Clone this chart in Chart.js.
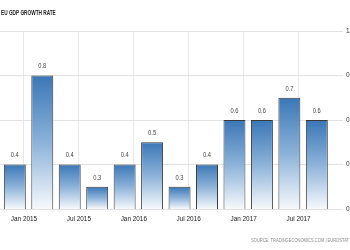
<!DOCTYPE html>
<html>
<head>
<meta charset="utf-8">
<script src="https://cdn.jsdelivr.net/npm/chart.js@4.4.1/dist/chart.umd.min.js"></script>
<style>
  html, body { margin: 0; padding: 0; background: #fff; overflow: hidden; }
  #wrap { width: 350px; height: 250px; overflow: hidden; position: relative; }
</style>
</head>
<body>
<div id="wrap"><canvas id="chart" width="372" height="250"></canvas></div>
<script>
// quarterly readings, months counted from Jan 2015
var quarters = ["2015 Q1", "2015 Q2", "2015 Q3", "2015 Q4", "2016 Q1", "2016 Q2", "2016 Q3", "2016 Q4", "2017 Q1", "2017 Q2", "2017 Q3", "2017 Q4"];
var growth = [0.4, 0.8, 0.4, 0.3, 0.4, 0.5, 0.3, 0.4, 0.6, 0.6, 0.7, 0.6];
var tickMonths = [0, 6, 12, 18, 24, 30];
var tickLabels = ["Jan 2015", "Jul 2015", "Jan 2016", "Jul 2016", "Jan 2017", "Jul 2017"];
var yTicks = [0.2, 0.4, 0.6, 0.8, 1];

var FONT = "'Liberation Sans', Arial, sans-serif";

var points = quarters.map(function (q, i) {
  return { x: i * 3 - 1, y: growth[i] };
});

function barGradient(ctx) {
  if (ctx.type !== "data") return "#3a78b8";
  var chart = ctx.chart;
  var y = chart.scales.y;
  if (!y || !chart.chartArea) return "#3a78b8";
  var top = y.getPixelForValue(ctx.parsed.y);
  var bottom = y.getPixelForValue(y.min);
  var g = chart.ctx.createLinearGradient(0, top, 0, bottom);
  g.addColorStop(0, "#3a77b6");
  g.addColorStop(0.5, "#8cb2d9");
  g.addColorStop(1, "#f6f9fc");
  return g;
}

// condensed-looking text: squeeze horizontally
function narrowText(c, text, x, y, size, squeeze, color, align, weight) {
  c.save();
  c.font = (weight || "normal") + " " + size + "px " + FONT;
  c.fillStyle = color;
  c.textAlign = align;
  c.textBaseline = "middle";
  c.translate(x, y);
  c.scale(squeeze, 1);
  c.fillText(text, 0, 0);
  c.restore();
}

var textPlugin = {
  id: "texts",
  afterDatasetsDraw: function (chart) {
    var meta = chart.getDatasetMeta(0);
    meta.data.forEach(function (el, i) {
      narrowText(chart.ctx, growth[i].toFixed(1), el.x, el.y - 9, 7, 0.82, "#444", "center");
    });
  },
  afterDraw: function (chart) {
    narrowText(chart.ctx, "EU GDP GROWTH RATE", 1, 13, 7.5, 0.63, "#222", "left", "bold");
    narrowText(chart.ctx, "SOURCE: TRADINGECONOMICS.COM | EUROSTAT", 349, 241, 5.2, 0.78, "#8a8a8a", "right");
  }
};

new Chart(document.getElementById("chart"), {
  type: "bar",
  data: {
    datasets: [{
      label: "GDP Growth Rate",
      data: points,
      backgroundColor: barGradient,
      borderColor: "#3a3a3a",
      borderWidth: 1,
      borderSkipped: false,
      barPercentage: 0.8,
      categoryPercentage: 1
    }]
  },
  options: {
    responsive: false,
    animation: false,
    layout: { padding: { top: 31, left: 0, right: 0, bottom: 0 } },
    plugins: {
      legend: { display: false },
      title: { display: false },
      tooltip: { enabled: false }
    },
    scales: {
      x: {
        type: "linear",
        offset: false,
        min: -2.62,
        max: 34.86,
        afterBuildTicks: function (s) {
          s.ticks = tickMonths.map(function (v) { return { value: v }; });
        },
        afterFit: function (s) { s.height = 41; },
        grid: { color: "#e8e8e8", drawTicks: false, offset: false },
        border: { display: false },
        ticks: {
          autoSkip: false,
          maxRotation: 0,
          padding: 6,
          color: "#222",
          font: { family: FONT, size: 6.4 },
          callback: function (v) {
            var i = tickMonths.indexOf(v);
            return i >= 0 ? tickLabels[i] : "";
          }
        }
      },
      y: {
        position: "right",
        min: 0.2,
        max: 1,
        afterBuildTicks: function (s) {
          s.ticks = yTicks.map(function (v) { return { value: v }; });
        },
        afterFit: function (s) { s.width = 29; },
        grid: { color: "#e2e2e2", drawTicks: false },
        border: { display: false },
        ticks: {
          padding: 3,
          color: "#333",
          font: { family: FONT, size: 6.5 },
          callback: function (v) { return String(Math.round(v * 10) / 10); }
        }
      }
    }
  },
  plugins: [textPlugin]
});
</script>
</body>
</html>
